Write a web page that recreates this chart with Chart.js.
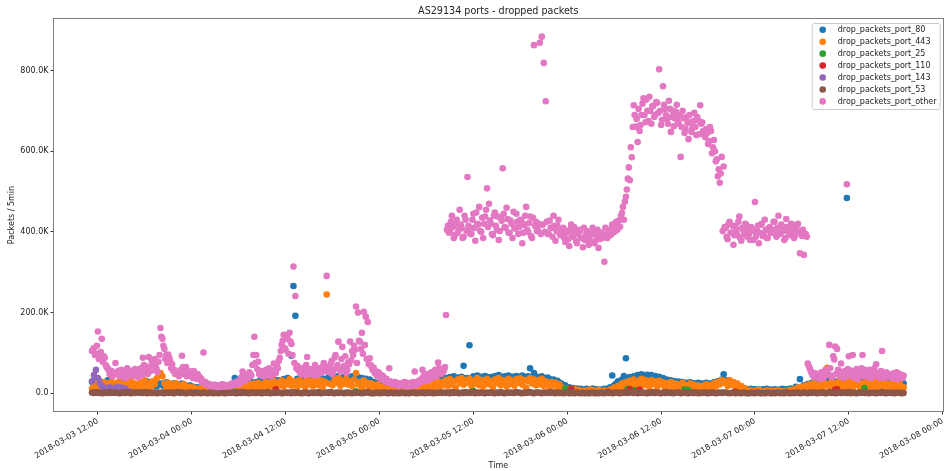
<!DOCTYPE html>
<html>
<head>
<meta charset="utf-8">
<script src="https://cdn.jsdelivr.net/npm/chart.js@4.4.1/dist/chart.umd.min.js"></script>
<style>
  html, body { margin: 0; padding: 0; background: #fff; }
  canvas { display: block; }
</style>
</head>
<body>
<canvas id="chart" width="946" height="471"></canvas>
<script>
var chartTitle = "AS29134 ports - dropped packets";
var xTitle = "Time";
var yTitle = "Packets / 5min";

// one sample every 15 min, hours counted from 2018-03-03 00:00
var firstHour = 11.25;
var stepHours = 0.25;

var seriesNames = ["drop_packets_port_80", "drop_packets_port_443", "drop_packets_port_25",
  "drop_packets_port_110", "drop_packets_port_143", "drop_packets_port_53", "drop_packets_port_other"];
var seriesColors = ["#1f77b4", "#ff7f0e", "#2ca02c", "#d62728", "#9467bd", "#8c564b", "#e377c2"];

// values are K packets / 5min, 12 samples (3 hours) per row
var port80 = [
  28, 18, 35, 22, 30, 14, 26, 20, 32, 16, 24, 21,
  18, 26, 14, 22, 28, 12, 24, 19, 27, 15, 23, 20,
  22, 15, 26, 19, 30, 14, 24, 20, 28, 17, 25, 21,
  24, 16, 27, 19, 22, 14, 25, 18, 21, 13, 24, 17,
  18, 11, 20, 14, 16, 9, 15, 12, 14, 8, 13, 10,
  9, 12, 7, 13, 10, 14, 8, 12, 15, 11, 16, 13,
  14, 38, 18, 22, 26, 20, 28, 17, 24, 30, 21, 26,
  28, 20, 32, 24, 29, 22, 34, 26, 30, 24, 33, 27,
  32, 26, 35, 29, 38, 31, 93, 266, 192, 36, 28, 34,
  30, 38, 27, 35, 32, 40, 29, 36, 33, 39, 31, 35,
  34, 40, 30, 37, 35, 42, 32, 38, 36, 41, 33, 38,
  36, 42, 34, 39, 40, 35, 38, 33, 36, 30, 34, 27,
  28, 22, 26, 18, 24, 16, 21, 14, 19, 13, 17, 12,
  14, 11, 16, 12, 15, 10, 14, 17, 12, 16, 13, 19,
  20, 25, 18, 28, 22, 30, 24, 32, 26, 34, 28, 36,
  33, 38, 31, 40, 35, 42, 34, 39, 36, 41, 68, 37,
  38, 119, 35, 42, 39, 44, 36, 41, 38, 43, 40, 37,
  40, 36, 43, 38, 45, 39, 35, 42, 37, 44, 39, 41,
  38, 43, 36, 41, 44, 37, 40, 42, 62, 38, 50, 41,
  40, 36, 42, 38, 34, 39, 35, 32, 34, 29, 31, 26,
  24, 17, 20, 13, 15, 10, 13, 8, 12, 7, 11, 9,
  8, 11, 6, 10, 12, 7, 10, 6, 9, 7, 11, 8,
  12, 15, 44, 20, 24, 30, 26, 34, 43, 87, 36, 40,
  38, 42, 36, 45, 40, 47, 42, 44, 46, 40, 45, 41,
  43, 37, 41, 35, 38, 32, 34, 29, 32, 27, 30, 26,
  29, 23, 28, 24, 26, 21, 27, 22, 25, 20, 26, 23,
  24, 20, 26, 22, 24, 19, 27, 23, 30, 26, 34, 47,
  33, 25, 30, 22, 26, 18, 20, 14, 15, 11, 12, 9,
  8, 11, 6, 10, 7, 9, 5, 10, 7, 11, 6, 9,
  7, 10, 6, 9, 8, 11, 6, 10, 8, 12, 9, 11,
  16, 12, 35, 15, 20, 17, 23, 19, 26, 21, 28, 22,
  25, 29, 22, 28, 24, 31, 26, 30, 23, 29, 27, 24,
  28, 23, 484, 29, 25, 31, 27, 32, 24, 30, 26, 29,
  30, 25, 32, 27, 29, 24, 31, 26, 33, 27, 30, 25,
  28, 31, 26, 29, 24, 27, 30, 25
];

var port443 = [
  12, 26, 15, 30, 18, 10, 27, 14, 24, 11, 29, 17,
  25, 12, 30, 16, 22, 9, 28, 18, 31, 13, 24, 20,
  14, 27, 18, 32, 11, 25, 16, 30, 22, 36, 45, 50,
  42, 24, 12, 26, 15, 22, 9, 25, 14, 20, 8, 23,
  12, 6, 16, 9, 14, 5, 12, 8, 13, 4, 11, 7,
  5, 11, 6, 13, 4, 10, 7, 12, 5, 9, 14, 6,
  8, 15, 6, 17, 10, 20, 9, 18, 12, 22, 11, 24,
  14, 26, 12, 22, 16, 28, 13, 25, 18, 30, 15, 27,
  20, 32, 17, 28, 22, 35, 19, 30, 24, 16, 33, 21,
  28, 15, 34, 22, 30, 18, 36, 25, 20, 32, 17, 29,
  245, 24, 54, 20, 33, 26, 38, 19, 31, 24, 35, 22,
  30, 18, 34, 50, 22, 28, 15, 32, 20, 26, 14, 24,
  18, 10, 22, 12, 16, 8, 19, 11, 14, 6, 15, 9,
  12, 5, 14, 8, 16, 6, 11, 15, 7, 13, 10, 17,
  12, 22, 10, 25, 15, 28, 13, 24, 18, 30, 16, 27,
  20, 33, 18, 35, 22, 30, 14, 34, 25, 38, 21, 32,
  26, 36, 18, 31, 24, 38, 20, 33, 16, 29, 35, 22,
  30, 15, 34, 25, 38, 20, 32, 27, 17, 36, 23, 31,
  19, 35, 26, 37, 21, 33, 14, 30, 38, 24, 34, 20,
  32, 22, 36, 18, 30, 25, 15, 28, 20, 26, 12, 22,
  14, 8, 12, 5, 9, 3, 7, 10, 4, 8, 2, 6,
  3, 7, 2, 9, 4, 6, 1, 8, 3, 5, 7, 2,
  5, 9, 4, 14, 10, 18, 12, 24, 16, 28, 20, 31,
  22, 34, 18, 30, 25, 36, 20, 32, 27, 15, 33, 24,
  29, 16, 31, 22, 27, 12, 25, 19, 28, 14, 24, 18,
  22, 12, 26, 16, 20, 10, 24, 15, 21, 11, 19, 14,
  18, 10, 22, 14, 20, 12, 25, 17, 28, 22, 33, 26,
  30, 18, 33, 22, 28, 15, 24, 12, 18, 8, 12, 5,
  4, 7, 2, 6, 3, 8, 1, 5, 3, 7, 2, 6,
  3, 6, 2, 7, 4, 5, 1, 6, 3, 8, 4, 9,
  8, 14, 6, 16, 10, 19, 12, 22, 14, 25, 16, 21,
  12, 26, 15, 24, 63, 18, 28, 14, 25, 19, 30, 16,
  22, 12, 27, 18, 30, 14, 24, 20, 29, 11, 25, 17,
  28, 15, 24, 19, 31, 13, 26, 21, 16, 27, 12, 23,
  18, 26, 14, 22, 17, 24, 11, 15
];

var port53 = [
  2, 1, 3, 1, 2, 0, 1, 2, 1, 3, 1, 2,
  1, 2, 0, 1, 2, 1, 3, 1, 0, 2, 1, 2,
  2, 1, 1, 3, 0, 2, 1, 1, 2, 0, 1, 2,
  1, 0, 2, 1, 2, 1, 0, 2, 3, 1, 2, 1,
  0, 1, 2, 1, 0, 2, 1, 1, 0, 2, 1, 0,
  1, 2, 0, 1, 1, 0, 2, 1, 0, 1, 2, 1,
  2, 1, 0, 2, 1, 3, 1, 2, 0, 1, 2, 1,
  1, 2, 1, 0, 2, 1, 3, 0, 1, 2, 1, 2,
  2, 0, 1, 2, 1, 2, 0, 3, 1, 2, 1, 0,
  1, 2, 1, 0, 2, 1, 2, 1, 3, 0, 1, 2,
  2, 1, 3, 1, 0, 2, 1, 2, 1, 0, 2, 1,
  1, 0, 2, 1, 2, 1, 0, 1, 2, 3, 1, 0,
  0, 1, 2, 0, 1, 1, 2, 0, 1, 2, 0, 1,
  1, 0, 1, 2, 0, 1, 0, 1, 2, 1, 0, 1,
  1, 2, 0, 1, 2, 1, 1, 0, 2, 1, 2, 1,
  2, 1, 2, 0, 3, 1, 2, 1, 0, 2, 1, 3,
  1, 2, 1, 3, 0, 2, 1, 2, 1, 0, 2, 1,
  2, 1, 0, 2, 1, 3, 1, 0, 2, 1, 2, 1,
  1, 3, 2, 1, 0, 2, 1, 2, 3, 1, 0, 2,
  2, 1, 0, 2, 1, 2, 1, 3, 1, 0, 2, 1,
  1, 0, 1, 2, 0, 1, 1, 0, 2, 1, 0, 1,
  0, 1, 0, 1, 2, 0, 1, 0, 1, 1, 0, 2,
  1, 2, 0, 1, 2, 1, 0, 2, 1, 3, 1, 2,
  2, 1, 3, 0, 2, 1, 2, 1, 0, 2, 1, 3,
  1, 2, 1, 0, 2, 1, 3, 1, 2, 0, 1, 2,
  2, 0, 1, 2, 1, 0, 2, 1, 1, 2, 0, 1,
  1, 2, 1, 0, 2, 1, 2, 0, 1, 2, 1, 2,
  2, 1, 0, 1, 2, 0, 1, 1, 0, 2, 1, 0,
  0, 1, 1, 0, 2, 1, 0, 1, 0, 1, 2, 0,
  1, 0, 1, 2, 0, 1, 0, 2, 1, 0, 1, 1,
  1, 2, 0, 1, 2, 1, 0, 2, 1, 2, 1, 0,
  2, 1, 2, 0, 1, 3, 1, 2, 0, 1, 2, 1,
  1, 2, 1, 3, 0, 2, 1, 0, 2, 1, 2, 1,
  2, 0, 1, 2, 1, 0, 2, 1, 3, 1, 0, 2,
  1, 2, 0, 1, 2, 1, 0, 1
];

var portOther = [
  105, 112, 98, 153, 88, 135, 92, 70, 62, 48, 55, 45,
  75, 50, 44, 58, 40, 52, 62, 47, 55, 43, 60, 50,
  58, 62, 88, 50, 66, 90, 55, 72, 85, 60, 78, 162,
  135, 110, 95, 96, 80, 72, 58, 50, 46, 55, 93, 48,
  65, 45, 50, 42, 55, 38, 48, 40, 35, 101, 28, 24,
  22, 20, 18, 21, 17, 19, 16, 22, 18, 20, 17, 19,
  20, 24, 28, 22, 35, 54, 30, 42, 38, 48, 70, 140,
  95, 78, 46, 52, 44, 58, 48, 42, 55, 74, 50, 62,
  88, 120, 145, 108, 135, 150, 122, 314, 241, 68, 55, 48,
  62, 45, 90, 58, 48, 52, 70, 45, 60, 50, 66, 55,
  291, 58, 72, 48, 88, 62, 128, 55, 115, 68, 50, 76,
  128, 105, 118, 215, 200, 128, 150, 202, 190, 177, 87, 66,
  63, 55, 42, 48, 35, 40, 30, 28, 62, 25, 22, 28,
  22, 18, 25, 20, 28, 17, 22, 26, 19, 54, 20, 30,
  28, 58, 35, 40, 32, 45, 38, 48, 42, 76, 50, 55,
  58, 194, 415, 402, 440, 385, 420, 398, 455, 410, 388, 430,
  536, 410, 395, 445, 378, 420, 462, 400, 385, 438, 508, 470,
  420, 392, 448, 405, 380, 435, 558, 412, 460, 398, 428, 385,
  410, 445, 395, 430, 372, 418, 462, 400, 438, 385, 863, 425,
  405, 869, 884, 819, 724, 395, 428, 410, 440, 378, 415, 398,
  392, 410, 375, 402, 365, 418, 388, 398, 372, 405, 385, 362,
  380, 402, 368, 395, 410, 372, 388, 360, 398, 385, 326, 392,
  405, 392, 418, 400, 425, 410, 413, 447, 430, 487, 532, 528,
  585, 714, 661, 623, 650, 690, 731, 672, 700, 735, 668, 712,
  690, 720, 803, 665, 761, 705, 680, 725, 648, 700, 682, 715,
  668, 586, 700, 645, 685, 630, 672, 658, 695, 640, 676, 714,
  672, 640, 655, 618, 660, 595, 628, 575, 538, 522, 586, 562,
  410, 382, 425, 398, 368, 415, 392, 438, 378, 405, 420, 388,
  395, 412, 380, 474, 402, 372, 418, 390, 430, 385, 408, 398,
  405, 425, 388, 440, 396, 412, 380, 432, 402, 392, 418, 385,
  400, 420, 347, 390, 343, 395, 74, 62, 50, 42, 48, 38,
  45, 52, 38, 58, 48, 120, 44, 92, 116, 110, 55, 74,
  42, 55, 518, 92, 48, 95, 40, 60, 52, 45, 95, 58,
  48, 40, 55, 45, 62, 72, 50, 38, 105, 46, 52, 42,
  45, 38, 50, 42, 35, 48, 40, 44
];

// port_other samples that fall between the 15 min grid points (7.5 min later)
var portOtherMid = [
  108, 95, 118, 85, 102, 78, 88, 65, 58, 52, 42, 50,
  48, 56, 42, 50, 46, 38, 54, 44, 50, 57, 46, 40,
  52, 45, 70, 56, 48, 62, 80, 58, 66, 52, 95, 140,
  118, 85, 75, 88, 62, 55, 48, 52, 42, 58, 65, 50,
  42, 55, 48, 38, 44, 36, 42, 32, 28, 25, 22, 20,
  18, 21, 17, 20, 15, 19, 22, 17, 20, 18, 21, 24,
  26, 22, 30, 25, 40, 33, 45, 36, 52, 44, 95, 75,
  60, 48, 55, 42, 50, 46, 62, 52, 45, 58, 68, 80,
  105, 130, 112, 142, 98, 128, 95, 75, 62, 58, 50, 62,
  52, 70, 48, 60, 55, 45, 58, 48, 62, 52, 75, 60,
  65, 52, 80, 58, 95, 70, 60, 85, 62, 92, 58, 72,
  82, 95, 108, 75, 130, 110, 98, 120, 85, 72, 70, 58,
  50, 45, 52, 38, 44, 32, 36, 26, 30, 24, 27, 21,
  25, 20, 23, 27, 19, 24, 21, 18, 28, 22, 26, 32,
  35, 42, 30, 48, 36, 52, 44, 58, 46, 62, 48, 52,
  65, 405, 398, 425, 412, 392, 430, 405, 418, 385, 440, 402,
  415, 395, 430, 410, 448, 418, 402, 435, 420, 455, 412, 428,
  395, 440, 415, 438, 402, 428, 445, 410, 432, 398, 420, 450,
  408, 425, 412, 428, 398, 440, 405, 422, 390, 435, 415, 402,
  420, 395, 418, 400, 425, 395, 410, 388, 415, 402, 430, 392,
  405, 385, 398, 382, 405, 390, 412, 378, 395, 402, 385, 410,
  392, 380, 388, 400, 375, 395, 405, 382, 398, 390, 410, 385,
  402, 395, 412, 420, 405, 428, 440, 462, 475, 505, 560, 610,
  660, 690, 680, 705, 665, 718, 690, 728, 675, 700, 712, 685,
  722, 695, 700, 678, 715, 690, 668, 705, 685, 662, 698, 675,
  690, 660, 682, 655, 670, 690, 648, 675, 660, 685, 642, 668,
  650, 635, 645, 625, 650, 610, 600, 580, 555, 545, 402, 412,
  388, 420, 398, 415, 392, 405, 425, 385, 410, 395, 418, 402,
  380, 408, 402, 388, 415, 398, 420, 392, 405, 385, 412, 400,
  425, 395, 410, 395, 418, 402, 385, 412, 398, 420, 405, 392,
  415, 400, 398, 405, 390, 388, 68, 55, 45, 50, 40, 48,
  36, 50, 42, 55, 46, 62, 40, 84, 48, 58, 42, 52,
  38, 48, 60, 44, 56, 40, 52, 35, 48, 62, 42, 50,
  45, 58, 38, 52, 44, 48, 40, 55, 46, 38, 50, 44,
  40, 48, 36, 52, 42, 46, 38
];

// the small ports sit under the port 53 band; only the points that show are listed
var port25Hours = [29.5, 45.0, 60.0, 71.75, 79.75, 80.5, 87.0, 87.5, 100.0, 110.0];
var port25Values = [4, 5, 6, 12, 11, 8, 10, 8, 4, 13];
var port110Hours = [34.75, 72.5, 77.25, 80.0, 81.25, 93.5, 106.25, 106.5];
var port110Values = [10, 10, 4, 10, 9, 4, 9, 10];
var port143Hours = [11.25, 11.5, 11.75, 12.0, 12.25, 12.5, 12.75, 13.0, 13.5, 14.0, 14.5, 15.0, 15.5, 16.0];
var port143Values = [30, 45, 58, 38, 25, 18, 14, 12, 15, 13, 16, 14, 12, 5];

var xTickHours = [12, 24, 36, 48, 60, 72, 84, 96, 108, 120];
var yTickValues = [0, 200, 400, 600, 800];

function gridPoints(values, offset) {
  return values.map(function (v, i) { return { x: firstHour + (offset || 0) + i * stepHours, y: v }; });
}
function pairPoints(hours, values) {
  return hours.map(function (h, i) { return { x: h, y: values[i] }; });
}
function hourLabel(h) {
  var day = 3 + Math.floor(h / 24);
  var hh = h % 24;
  return "2018-03-0" + day + " " + (hh < 10 ? "0" : "") + hh + ":00";
}

var seriesPoints = [
  gridPoints(port80),
  gridPoints(port443),
  pairPoints(port25Hours, port25Values),
  pairPoints(port110Hours, port110Values),
  pairPoints(port143Hours, port143Values),
  gridPoints(port53),
  gridPoints(portOther).concat(gridPoints(portOtherMid, stepHours / 2))
];

var datasets = seriesNames.map(function (name, i) {
  return {
    label: name,
    data: seriesPoints[i],
    backgroundColor: seriesColors[i],
    borderWidth: 0,
    pointRadius: 3.3,
    pointHoverRadius: 3.3,
    order: seriesNames.length - i   // later series drawn on top, like matplotlib
  };
});

var FONT = "DejaVu Sans";
var TEXT = "#222";

// title, full frame and the in-axes legend box
var decorations = {
  id: "decorations",
  afterDraw: function (chart) {
    var ctx = chart.ctx, a = chart.chartArea;
    ctx.save();
    ctx.strokeStyle = "#808080";
    ctx.lineWidth = 1;
    ctx.strokeRect(Math.round(a.left) - 0.5, Math.round(a.top) - 0.5,
      Math.round(a.right - a.left) + 1, Math.round(a.bottom - a.top) + 1);

    ctx.fillStyle = TEXT;
    ctx.font = "9.6px '" + FONT + "'";
    ctx.textAlign = "center";
    ctx.textBaseline = "middle";
    ctx.fillText(chartTitle, (a.left + a.right) / 2, 11);

    // legend
    var w = 128, h = 86;
    var x0 = a.right - 3 - w, y0 = a.top + 4;
    ctx.beginPath();
    ctx.roundRect(x0 + 0.5, y0 + 0.5, w, h, 2);
    ctx.fillStyle = "rgba(255,255,255,0.8)";
    ctx.fill();
    ctx.strokeStyle = "#cccccc";
    ctx.stroke();
    ctx.font = "8px '" + FONT + "'";
    ctx.textAlign = "left";
    chart.data.datasets.forEach(function (ds, i) {
      var cy = y0 + 6.8 + i * 11.93;
      ctx.beginPath();
      ctx.arc(x0 + 11, cy, 3.3, 0, Math.PI * 2);
      ctx.fillStyle = ds.backgroundColor;
      ctx.fill();
      ctx.fillStyle = TEXT;
      ctx.fillText(ds.label, x0 + 26, cy + 0.5);
    });
    ctx.restore();
  }
};

new Chart(document.getElementById("chart"), {
  type: "scatter",
  data: { datasets: datasets },
  plugins: [decorations],
  options: {
    responsive: false,
    animation: false,
    events: [],
    layout: { padding: { top: 19, right: 1, bottom: 0, left: 0 } },
    plugins: {
      legend: { display: false },
      tooltip: { enabled: false },
      title: { display: false }
    },
    scales: {
      x: {
        type: "linear",
        min: 6.39,
        max: 120,
        afterBuildTicks: function (scale) {
          scale.ticks = xTickHours.map(function (v) { return { value: v }; });
        },
        afterFit: function (scale) {
          scale.height = 60;
          scale.paddingLeft = 0; scale.paddingRight = 0;
        },
        grid: { display: true, drawOnChartArea: false, drawTicks: true, tickLength: 3.5, tickColor: "#333" },
        border: { display: false },
        ticks: {
          autoSkip: false,
          maxRotation: 30,
          minRotation: 30,
          padding: 2,
          color: TEXT,
          font: { family: FONT, size: 8 },
          callback: function (v) { return hourLabel(v); }
        },
        title: {
          display: true, text: xTitle, color: TEXT,
          font: { family: FONT, size: 8 },
          padding: { top: 0, bottom: 0 }
        }
      },
      y: {
        min: -43.9,
        max: 927.8,
        afterBuildTicks: function (scale) {
          scale.ticks = yTickValues.map(function (v) { return { value: v }; });
        },
        afterFit: function (scale) {
          scale.width = 54;
          scale.paddingTop = 0; scale.paddingBottom = 0;
        },
        grid: { display: true, drawOnChartArea: false, drawTicks: true, tickLength: 3.5, tickColor: "#333" },
        border: { display: false },
        ticks: {
          padding: 2,
          color: TEXT,
          font: { family: FONT, size: 8 },
          callback: function (v) { return v === 0 ? "0.0" : v.toFixed(1) + "K"; }
        },
        title: {
          display: true, text: yTitle, color: TEXT,
          font: { family: FONT, size: 8 },
          padding: { top: 7.2, bottom: 0 }
        }
      }
    }
  }
});
</script>
</body>
</html>
